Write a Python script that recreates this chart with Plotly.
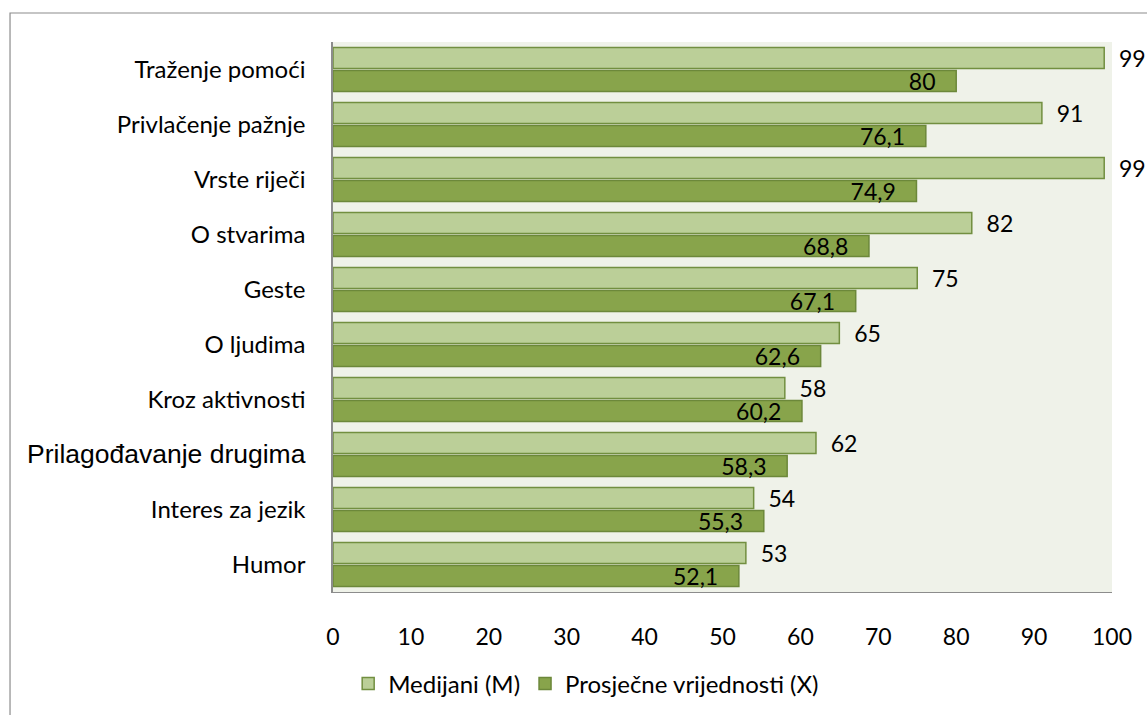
import plotly.graph_objects as go

categories = ["Traženje pomoći", "Privlačenje pažnje", "Vrste riječi", "O stvarima", "Geste",
              "O ljudima", "Kroz aktivnosti", "Prilagođavanje drugima", "Interes za jezik", "Humor"]
medijani = [99, 91, 99, 82, 75, 65, 58, 62, 54, 53]
prosjecne = [80, 76.1, 74.9, 68.8, 67.1, 62.6, 60.2, 58.3, 55.3, 52.1]
x_ticks = [0, 10, 20, 30, 40, 50, 60, 70, 80, 90, 100]

NB = "\u00a0"

def fmt(v):
    return ("%g" % v).replace(".", ",")

ticktext = []
for c in categories:
    if c == "Prilagođavanje drugima":
        ticktext.append('<span style="font-family:Liberation Sans;font-size:26.5px">' + c + '</span>')
    else:
        ticktext.append(c)

FONT = "Lato"
FS = 23
fig = go.Figure()
fig.add_trace(go.Bar(
    y=categories, x=medijani, orientation="h", name="Medijani (M)",
    marker=dict(color="#BBCF98", line=dict(color="#728F40", width=1.5)),
    text=[NB * 2 + fmt(v) for v in medijani], textposition="outside", textangle=0,
    textfont=dict(family=FONT, size=FS, color="#000000"),
    cliponaxis=False,
))
fig.add_trace(go.Bar(
    y=categories, x=prosjecne, orientation="h", name="Prosječne vrijednosti (X)",
    marker=dict(color="#88A44B", line=dict(color="#6C883A", width=1.5)),
    text=[fmt(v) + NB * 3 for v in prosjecne], textposition="inside", insidetextanchor="end",
    textangle=0,
    textfont=dict(family=FONT, size=FS, color="#000000"),
    cliponaxis=False,
))

fig.update_layout(
    width=1147, height=715,
    margin=dict(l=333, r=35, t=42, b=123, autoexpand=False),
    paper_bgcolor="white", plot_bgcolor="#EFF2E9",
    barmode="group", bargap=0.16, bargroupgap=0.09,
    font=dict(family=FONT, size=FS, color="#000000"),
    showlegend=True,
    legend=dict(orientation="h", x=0.325, xanchor="center", y=-0.167, yanchor="middle",
                font=dict(family=FONT, size=24), traceorder="normal", itemwidth=30),
    shapes=[dict(type="rect", xref="paper", yref="paper", x0=-0.4146, x1=1.1, y0=-0.3, y1=1.0527,
                 line=dict(color="#8C8C8C", width=1.2), fillcolor="rgba(0,0,0,0)", layer="below")],
)
fig.update_xaxes(range=[0, 100], tickvals=x_ticks, ticktext=[str(t) for t in x_ticks],
                 showgrid=False, zeroline=False, showline=True, linecolor="#8C8C8C", linewidth=1.2,
                 ticks="", ticklabelstandoff=24, tickfont=dict(family=FONT, size=23))
fig.update_yaxes(categoryorder="array", categoryarray=categories, autorange="reversed",
                 tickvals=categories, ticktext=ticktext,
                 showgrid=False, zeroline=False, showline=True, linecolor="#8C8C8C", linewidth=1.5,
                 ticks="", ticklabelstandoff=21, tickfont=dict(family=FONT, size=24))
fig.update_traces(constraintext="none")
fig.write_html("out.html", config={"displayModeBar": False},
               post_script="document.body.style.margin='0px';")
